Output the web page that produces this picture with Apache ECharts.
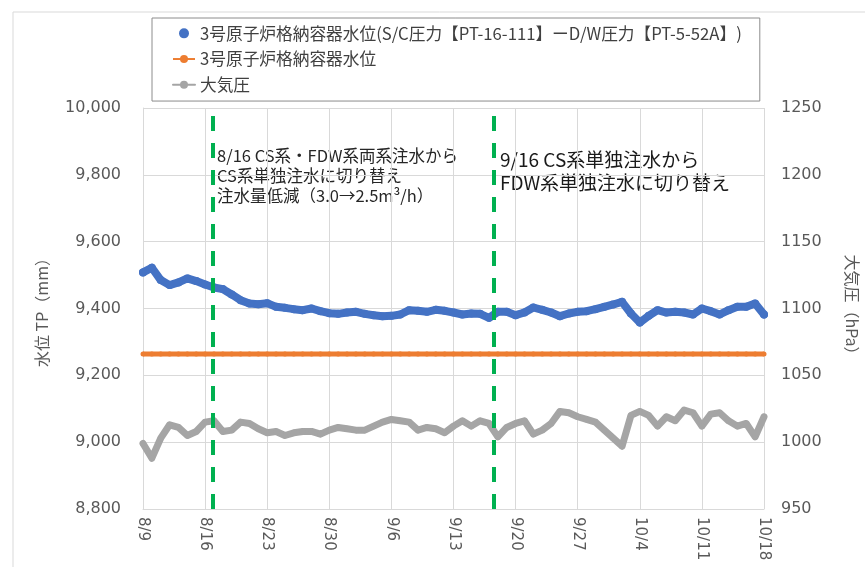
<!DOCTYPE html>
<html>
<head>
<meta charset="utf-8">
<script src="https://cdn.jsdelivr.net/npm/echarts@6/dist/echarts.min.js"></script>
<style>
  html, body { margin: 0; padding: 0; background: #fff; }
  #chart { width: 865px; height: 567px; }
</style>
</head>
<body>
<div id="chart"></div>
<script>
// x軸: 8/9 からの経過日数（0〜70）
const dateLabels = ['8/9', '8/16', '8/23', '8/30', '9/6', '9/13', '9/20', '9/27', '10/4', '10/11', '10/18']

// 3号原子炉格納容器水位（S/C圧力−D/W圧力）日ごとの読み取り値 [mm]
const levelDP = [
  9508, 9522, 9485, 9470, 9478, 9490, 9482, 9472, 9463, 9458,
  9442, 9425, 9415, 9413, 9416, 9405, 9402, 9398, 9395, 9400,
  9392, 9386, 9384, 9388, 9390, 9384, 9380, 9377, 9378, 9382,
  9395, 9393, 9390, 9396, 9393, 9388, 9382, 9385, 9384, 9372,
  9390, 9390, 9380, 9388, 9403, 9396, 9388, 9377, 9385, 9390,
  9392, 9398, 9405, 9412, 9420, 9385, 9358, 9378, 9395, 9388,
  9390, 9388, 9382, 9400, 9392, 9382, 9395, 9405, 9405, 9415,
  9382
]

// 3号原子炉格納容器水位 [mm]
const levelPCV = Array(71).fill(9264)

// 大気圧 [hPa]
const pressure = [
  999, 988, 1003, 1013, 1011, 1005, 1008, 1015, 1016, 1008,
  1009, 1015, 1014, 1010, 1007, 1008, 1005, 1007, 1008, 1008,
  1006, 1009, 1011, 1010, 1009, 1009, 1012, 1015, 1017, 1016,
  1015, 1009, 1011, 1010, 1007, 1012, 1016, 1012, 1016, 1014,
  1004, 1011, 1014, 1016, 1006, 1009, 1014, 1023, 1022, 1019,
  1017, 1015, 1009, 1003, 997, 1020, 1023, 1020, 1012, 1019,
  1016, 1024, 1022, 1012, 1021, 1022, 1016, 1012, 1014, 1004,
  1019
]

// 切り替え時点（経過日数）
const switchDays = [7.9, 39.5]

const toPairs = arr => arr.map((v, i) => [i, v])

const chart = echarts.init(document.getElementById('chart'))
const font = '"Noto Sans CJK JP", "Noto Sans", sans-serif'
const axisFont = '"DejaVu Sans", "Noto Sans CJK JP", sans-serif'
const dashLine = {
  color: '#00b050',
  width: 4,
  type: [15, 12]
}

const option = {
  backgroundColor: '#fff',
  textStyle: { fontFamily: font },
  animation: false,
  graphic: [
    {
      type: 'rect',
      shape: { x: 13, y: 12, width: 900, height: 600 },
      style: { fill: 'none', stroke: '#d9d9d9', lineWidth: 1 },
      silent: true
    },
    {
      type: 'text',
      left: 217,
      top: 146,
      style: {
        text: '8/16 CS系・FDW系両系注水から\nCS系単独注水に切り替え\n注水量低減（3.0→2.5m³/h）',
        font: '16.5px ' + font,
        fill: '#262626',
        lineHeight: 20
      }
    },
    {
      type: 'text',
      left: 500,
      top: 148,
      style: {
        text: '9/16 CS系単独注水から\nFDW系単独注水に切り替え',
        font: '19px ' + font,
        fill: '#1a1a1a',
        lineHeight: 23
      }
    }
  ],
  legend: {
    orient: 'vertical',
    left: 152,
    top: 18,
    padding: [7, 18, 8, 20],
    itemGap: 9,
    itemWidth: 22,
    itemHeight: 10,
    borderColor: '#8c8c8c',
    borderWidth: 1,
    textStyle: { fontSize: 16.7, color: '#404040', fontFamily: font },
    data: [
      { name: '3号原子炉格納容器水位(S/C圧力【PT-16-111】ーD/W圧力【PT-5-52A】)', icon: 'circle' },
      { name: '3号原子炉格納容器水位' },
      { name: '大気圧' }
    ]
  },
  grid: { left: 143, right: 101, top: 108, bottom: 58, outerBoundsMode: 'none', containLabel: false },
  xAxis: {
    type: 'value',
    min: 0,
    max: 70,
    interval: 7,
    axisLine: { show: true, lineStyle: { color: '#d9d9d9' } },
    axisTick: { show: false },
    splitLine: { show: true, lineStyle: { color: '#d9d9d9' } },
    axisLabel: {
      rotate: -90,
      color: '#595959',
      fontSize: 15,
      fontFamily: axisFont,
      margin: 8,
      formatter: v => dateLabels[Math.round(v / 7)]
    }
  },
  yAxis: [
    {
      type: 'value',
      min: 8800,
      max: 10000,
      interval: 200,
      name: '水位 TP（mm）',
      nameLocation: 'middle',
      nameRotate: 90,
      nameGap: 93,
      nameTextStyle: { color: '#595959', fontSize: 16 },
      axisLine: { show: true, lineStyle: { color: '#d9d9d9' } },
      axisTick: { show: false },
      splitLine: { lineStyle: { color: '#d9d9d9' } },
      axisLabel: {
        color: '#595959',
        fontSize: 16,
        fontFamily: axisFont,
        margin: 22,
        formatter: v => v.toLocaleString('en-US')
      }
    },
    {
      type: 'value',
      min: 950,
      max: 1250,
      interval: 50,
      name: '大気圧（hPa）',
      nameLocation: 'middle',
      nameRotate: -90,
      nameGap: 80,
      nameTextStyle: { color: '#595959', fontSize: 16 },
      axisLine: { show: false },
      axisTick: { show: false },
      splitLine: { show: false },
      axisLabel: {
        color: '#595959',
        fontSize: 16,
        fontFamily: axisFont,
        margin: 17,
        formatter: v => String(v)
      }
    }
  ],
  series: [
    {
      name: '3号原子炉格納容器水位(S/C圧力【PT-16-111】ーD/W圧力【PT-5-52A】)',
      type: 'line',
      yAxisIndex: 0,
      data: toPairs(levelDP),
      color: '#4472c4',
      symbol: 'circle',
      symbolSize: 8,
      showSymbol: true,
      lineStyle: { width: 8, color: '#4472c4', cap: 'round', join: 'round' },
      itemStyle: { color: '#4472c4' },
      z: 4
    },
    {
      name: '3号原子炉格納容器水位',
      type: 'line',
      yAxisIndex: 0,
      data: toPairs(levelPCV),
      color: '#ed7d31',
      symbol: 'circle',
      symbolSize: 5,
      showSymbol: true,
      lineStyle: { width: 5, color: '#ed7d31' },
      itemStyle: { color: '#ed7d31' },
      z: 3
    },
    {
      name: '大気圧',
      type: 'line',
      yAxisIndex: 1,
      data: toPairs(pressure),
      color: '#a5a5a5',
      symbol: 'circle',
      symbolSize: 6,
      showSymbol: true,
      lineStyle: { width: 7, color: '#a5a5a5', cap: 'round', join: 'round' },
      itemStyle: { color: '#a5a5a5' },
      z: 3,
      markLine: {
        silent: true,
        symbol: 'none',
        label: { show: false },
        lineStyle: dashLine,
        data: switchDays.map(d => ({ xAxis: d }))
      }
    }
  ]
}

chart.setOption(option)
</script>
</body>
</html>
